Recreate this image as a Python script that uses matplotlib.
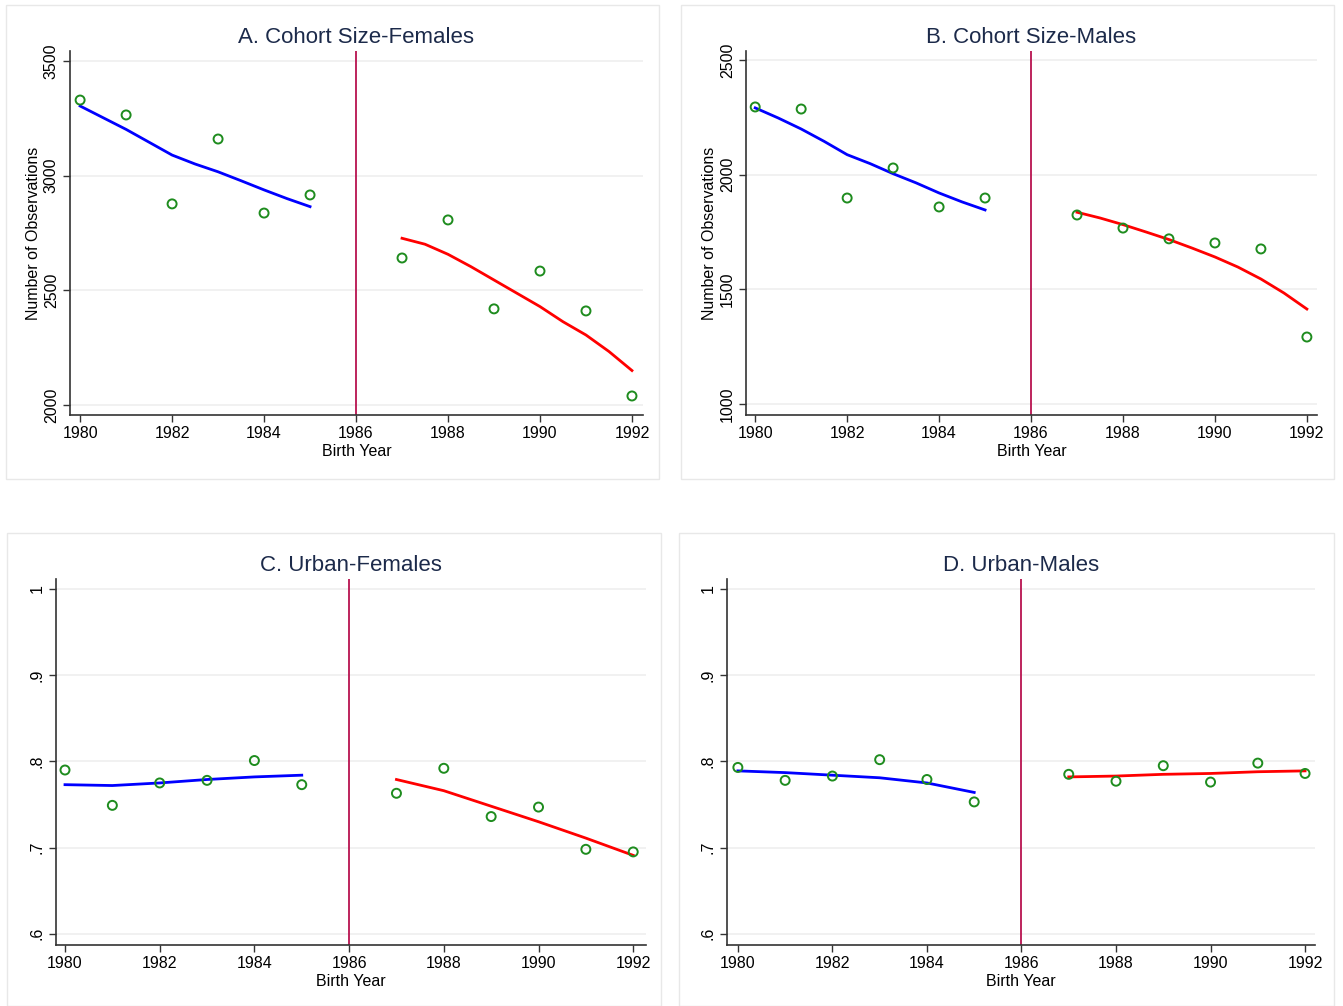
import matplotlib.pyplot as plt
from matplotlib.patches import Rectangle

plt.rcParams["font.family"] = ["Liberation Sans", "DejaVu Sans"]

W, H = 1343, 1006

years_pre = [1980, 1981, 1982, 1983, 1984, 1985]
years_post = [1987, 1988, 1989, 1990, 1991, 1992]
cutoff_year = 1986

# fitted curves in A and B were read every half year (they bend more)
half_years_pre = [1980, 1980.5, 1981, 1981.5, 1982, 1982.5, 1983, 1983.5, 1984, 1984.5, 1985]
half_years_post = [1987, 1987.5, 1988, 1988.5, 1989, 1989.5, 1990, 1990.5, 1991, 1991.5, 1992]

# panel A: cohort size, females
fem_size_pre = [3330, 3265, 2877, 3160, 2837, 2916]
fem_size_post = [2641, 2807, 2419, 2584, 2410, 2039]
fem_size_fit_pre = [3304, 3253, 3202, 3146, 3090, 3051, 3017, 2978, 2938, 2900, 2865]
fem_size_fit_post = [2727, 2701, 2657, 2603, 2545, 2487, 2429, 2363, 2305, 2233, 2150]

# panel B: cohort size, males
male_size_pre = [2295, 2286, 1898, 2029, 1859, 1898]
male_size_post = [1824, 1767, 1720, 1702, 1676, 1292]
male_size_fit_pre = [2291, 2247, 2199, 2145, 2087, 2048, 2004, 1964, 1920, 1881, 1846]
male_size_fit_post = [1836, 1811, 1782, 1750, 1717, 1680, 1641, 1597, 1545, 1484, 1414]

# panel C: urban share, females
fem_urban_pre = [0.790, 0.749, 0.775, 0.778, 0.801, 0.773]
fem_urban_post = [0.763, 0.792, 0.736, 0.747, 0.698, 0.695]
fem_urban_fit_pre = [0.773, 0.772, 0.775, 0.779, 0.782, 0.784]
fem_urban_fit_post = [0.779, 0.766, 0.748, 0.730, 0.711, 0.691]

# panel D: urban share, males
male_urban_pre = [0.793, 0.778, 0.783, 0.802, 0.779, 0.753]
male_urban_post = [0.785, 0.777, 0.795, 0.776, 0.798, 0.786]
male_urban_fit_pre = [0.789, 0.787, 0.784, 0.781, 0.775, 0.764]
male_urban_fit_post = [0.782, 0.783, 0.785, 0.786, 0.788, 0.789]

x_ticks = [1980, 1982, 1984, 1986, 1988, 1990, 1992]
size_fem_ticks = [2000, 2500, 3000, 3500]
size_male_ticks = [1000, 1500, 2000, 2500]
urban_ticks = [0.6, 0.7, 0.8, 0.9, 1.0]
urban_tick_labels = [".6", ".7", ".8", ".9", "1"]

TITLE_COLOR = "#1c2a4a"
DOT_COLOR = "#1e8c1e"
CUT_COLOR = "#b8134f"
GRID_COLOR = "#f0f0f0"
AXIS_COLOR = "#333333"


def add_panel_box(left, top, right, bottom):
    rect = Rectangle((left / W, 1 - bottom / H), (right - left) / W, (bottom - top) / H,
                     transform=fig.transFigure, facecolor="white",
                     edgecolor="#e8e8e8", linewidth=1.0, zorder=-10)
    fig.patches.append(rect)


def px_axes(left, top, right, bottom):
    ax = fig.add_axes([left / W, 1 - bottom / H, (right - left) / W, (bottom - top) / H])
    ax.set_zorder(5)
    return ax


def draw_panel(ax, title, pre, post, fit_x, fit_pre, fit_post, yticks, ylabels, xlim, ylim,
               ylabel=None):
    ax.patch.set_alpha(0)
    for yt in yticks:
        ax.axhline(yt, color=GRID_COLOR, linewidth=1.3, zorder=0)
    ax.axvline(cutoff_year, color=CUT_COLOR, linewidth=1.3, zorder=1)
    ax.plot(fit_x[0], fit_pre, color="#0000ff", linewidth=2.0, zorder=2)
    ax.plot(fit_x[1], fit_post, color="#ff0000", linewidth=2.0, zorder=2)
    ax.scatter(years_pre + years_post, pre + post, s=42, facecolors="none",
               edgecolors=DOT_COLOR, linewidths=1.4, zorder=3)

    ax.set_xlim(*xlim)
    ax.set_ylim(*ylim)
    ax.set_xticks(x_ticks)
    ax.set_yticks(yticks)
    ax.set_yticklabels(ylabels, rotation=90, va="center")
    ax.tick_params(axis="both", direction="out", length=5, width=1, color=AXIS_COLOR,
                   labelsize=11.5, pad=3, labelcolor="black")
    for side in ("top", "right"):
        ax.spines[side].set_visible(False)
    for side in ("left", "bottom"):
        ax.spines[side].set_color(AXIS_COLOR)
        ax.spines[side].set_linewidth(1.2)

    ax.set_xlabel("Birth Year", fontsize=11.5, labelpad=2)
    if ylabel:
        ax.set_ylabel(ylabel, fontsize=11.5, labelpad=2)
    ax.set_title(title, fontsize=16, color=TITLE_COLOR, pad=6)


fig = plt.figure(figsize=(W / 100, H / 100), dpi=100)
fig.patch.set_facecolor("white")

add_panel_box(6, 5, 659, 479)
add_panel_box(681, 5, 1334, 479)
add_panel_box(7, 533, 661, 1006)
add_panel_box(679, 533, 1334, 1006)

ax_a = px_axes(70, 51, 643, 415)
draw_panel(ax_a, "A. Cohort Size-Females", fem_size_pre, fem_size_post,
           (half_years_pre, half_years_post), fem_size_fit_pre, fem_size_fit_post,
           size_fem_ticks, [str(t) for t in size_fem_ticks], (1979.78, 1992.24), (1956, 3544),
           ylabel="Number of Observations")

ax_b = px_axes(746, 51, 1317, 415)
draw_panel(ax_b, "B. Cohort Size-Males", male_size_pre, male_size_post,
           (half_years_pre, half_years_post), male_size_fit_pre, male_size_fit_post,
           size_male_ticks, [str(t) for t in size_male_ticks], (1979.80, 1992.22), (952, 2539),
           ylabel="Number of Observations")

ax_c = px_axes(56, 579, 646, 945)
draw_panel(ax_c, "C. Urban-Females", fem_urban_pre, fem_urban_post,
           (years_pre, years_post), fem_urban_fit_pre, fem_urban_fit_post,
           urban_ticks, urban_tick_labels, (1979.81, 1992.27), (0.587, 1.0116))

ax_d = px_axes(727, 579, 1315, 945)
draw_panel(ax_d, "D. Urban-Males", male_urban_pre, male_urban_post,
           (years_pre, years_post), male_urban_fit_pre, male_urban_fit_post,
           urban_ticks, urban_tick_labels, (1979.77, 1992.21), (0.587, 1.0116))

fig.savefig("out.png", dpi=100, facecolor="white")
